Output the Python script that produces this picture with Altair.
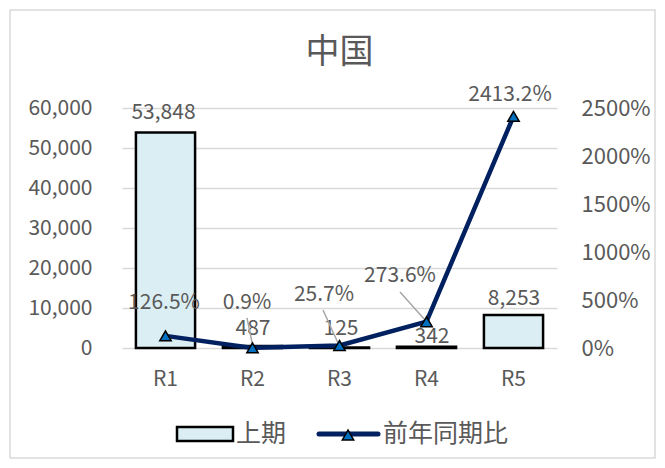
import altair as alt
import pandas as pd

# ---- data ----
categories = ["R1", "R2", "R3", "R4", "R5"]
prev_values = [53848, 487, 125, 342, 8253]          # 上期
yoy_ratio = [1.265, 0.009, 0.257, 2.736, 24.132]    # 前年同期比 (fraction)
left_ticks = [0, 10000, 20000, 30000, 40000, 50000, 60000]
right_ticks = [0, 5, 10, 15, 20, 25]

# label placement (pixel offsets, style only)
bar_label_dx = [-2, 0.5, 1.5, 5.5, 0.5]
bar_label_dy = [-20, -17.5, -18.5, -10, -15.5]
pct_label_dx = [-1.5, -5.5, -15.5, -26.5, -3.5]
pct_label_dy = [-33, -45, -50.5, -46, -21]
leader_cats = ["R2", "R3", "R4"]
leader_start_dx = [-5.5, -16.5, -26.5]
leader_start_dy = [-30, -35.5, -29.7]
leader_end_dx = [0, -1.5, -1.5]
leader_end_dy = [-3, -2.5, -1.7]

FONT = "Noto Sans CJK JP"
TXT = "#595959"
W, H = 435, 240

bars_df = pd.DataFrame({"cat": categories, "val": prev_values})
line_df = pd.DataFrame({"cat": categories, "ratio": yoy_ratio})

xenc = alt.X("cat:N", sort=categories,
             scale=alt.Scale(domain=categories, paddingInner=0.32, paddingOuter=0.16),
             axis=alt.Axis(title=None, labelAngle=0, domain=False, ticks=False,
                           labelFontSize=21, labelColor=TXT, labelFont=FONT, labelPadding=20))
xs = alt.X("cat:N", sort=categories)

left_axis = alt.Axis(title=None, values=left_ticks, tickCount=7,
                     format=",.0f", grid=True, gridColor="#D9D9D9", gridWidth=1.5,
                     labelOverlap=False, domain=False, ticks=False, labelFontSize=21,
                     labelColor=TXT, labelFont=FONT, labelPadding=30)
yleft = alt.Y("val:Q", scale=alt.Scale(domain=[0, 60000], nice=False), axis=left_axis)

bars = alt.Chart(bars_df).mark_bar(fill="#DAEEF3", stroke="#000000", strokeWidth=2.5).encode(
    x=xenc, y=yleft)

bar_texts = []
for i, c in enumerate(categories):
    bar_texts.append(
        alt.Chart(bars_df).transform_filter(alt.datum.cat == c)
        .mark_text(font=FONT, fontSize=21, color=TXT, baseline="middle",
                   dx=bar_label_dx[i], dy=bar_label_dy[i])
        .encode(x=xs, y=yleft, text=alt.Text("val:Q", format=",.0f")))

# title, legend + frame (decoration)
one = pd.DataFrame({"a": [0]})
title = alt.Chart(one).mark_text(text="中国", font=FONT, fontSize=34, color=TXT,
                                 align="center", baseline="middle").encode(
    x=alt.value(W / 2), y=alt.value(-55))
frame = alt.Chart(one).mark_rect(fill=None, stroke="#D9D9D9", strokeWidth=1.5).encode(
    x=alt.value(-112), x2=alt.value(W + 98), y=alt.value(-98), y2=alt.value(H + 110))
leg_rect = alt.Chart(one).mark_rect(fill="#DAEEF3", stroke="#000000", strokeWidth=2.5).encode(
    x=alt.value(55), x2=alt.value(111), y=alt.value(319), y2=alt.value(333))
leg_t1 = alt.Chart(one).mark_text(text="上期", font=FONT, fontSize=25, color=TXT,
                                  align="left", baseline="middle").encode(
    x=alt.value(114), y=alt.value(326))
leg_line = alt.Chart(one).mark_rule(color="#002060", strokeWidth=5, strokeCap="round").encode(
    x=alt.value(197), x2=alt.value(256), y=alt.value(326))
leg_pt = alt.Chart(one).mark_point(shape="triangle-up", filled=True, fill="#0070C0",
                                   stroke="#000000", strokeWidth=1.5, size=130, opacity=1).encode(
    x=alt.value(226), y=alt.value(327))
leg_t2 = alt.Chart(one).mark_text(text="前年同期比", font=FONT, fontSize=25, color=TXT,
                                  align="left", baseline="middle").encode(
    x=alt.value(261), y=alt.value(326))

left_layer = alt.layer(bars, frame, title, *bar_texts, leg_rect, leg_t1, leg_line, leg_pt, leg_t2)

right_axis = alt.Axis(title=None, orient="right", values=right_ticks, tickCount=6,
                      format=".0%", grid=False, domain=False, ticks=False, labelOverlap=False,
                      labelFontSize=22, labelColor=TXT, labelFont=FONT, labelPadding=24)
yright = alt.Y("ratio:Q", scale=alt.Scale(domain=[0, 25], nice=False), axis=right_axis)

leaders = []
for i, c in enumerate(leader_cats):
    leaders.append(
        alt.Chart(line_df).transform_filter(alt.datum.cat == c)
        .mark_rule(color="#A6A6A6", strokeWidth=1.5,
                   xOffset=leader_start_dx[i], x2Offset=leader_end_dx[i],
                   yOffset=leader_start_dy[i], y2Offset=leader_end_dy[i])
        .encode(x=xs, x2=alt.X2("cat:N"), y=yright, y2=alt.Y2("ratio:Q")))

line = alt.Chart(line_df).mark_line(color="#002060", strokeWidth=4.5).encode(x=xs, y=yright)
pts = alt.Chart(line_df).mark_point(shape="triangle-up", filled=True, fill="#0070C0",
                                    stroke="#000000", strokeWidth=1.5, size=130, opacity=1).encode(
    x=xs, y=yright)
pct_texts = []
for i, c in enumerate(categories):
    pct_texts.append(
        alt.Chart(line_df).transform_filter(alt.datum.cat == c)
        .mark_text(font=FONT, fontSize=21, color=TXT, baseline="middle",
                   dx=pct_label_dx[i], dy=pct_label_dy[i])
        .encode(x=xs, y=yright, text=alt.Text("ratio:Q", format=".1%")))

right_layer = alt.layer(line, *leaders, pts, *pct_texts)

chart = alt.layer(left_layer, right_layer).resolve_scale(y="independent").properties(
    width=W, height=H,
    autosize="none",
    padding={"left": 114, "top": 100, "right": 100, "bottom": 112},
).configure_view(stroke=None)

chart.save("out.html", embed_options={"renderer": "svg", "actions": False})
